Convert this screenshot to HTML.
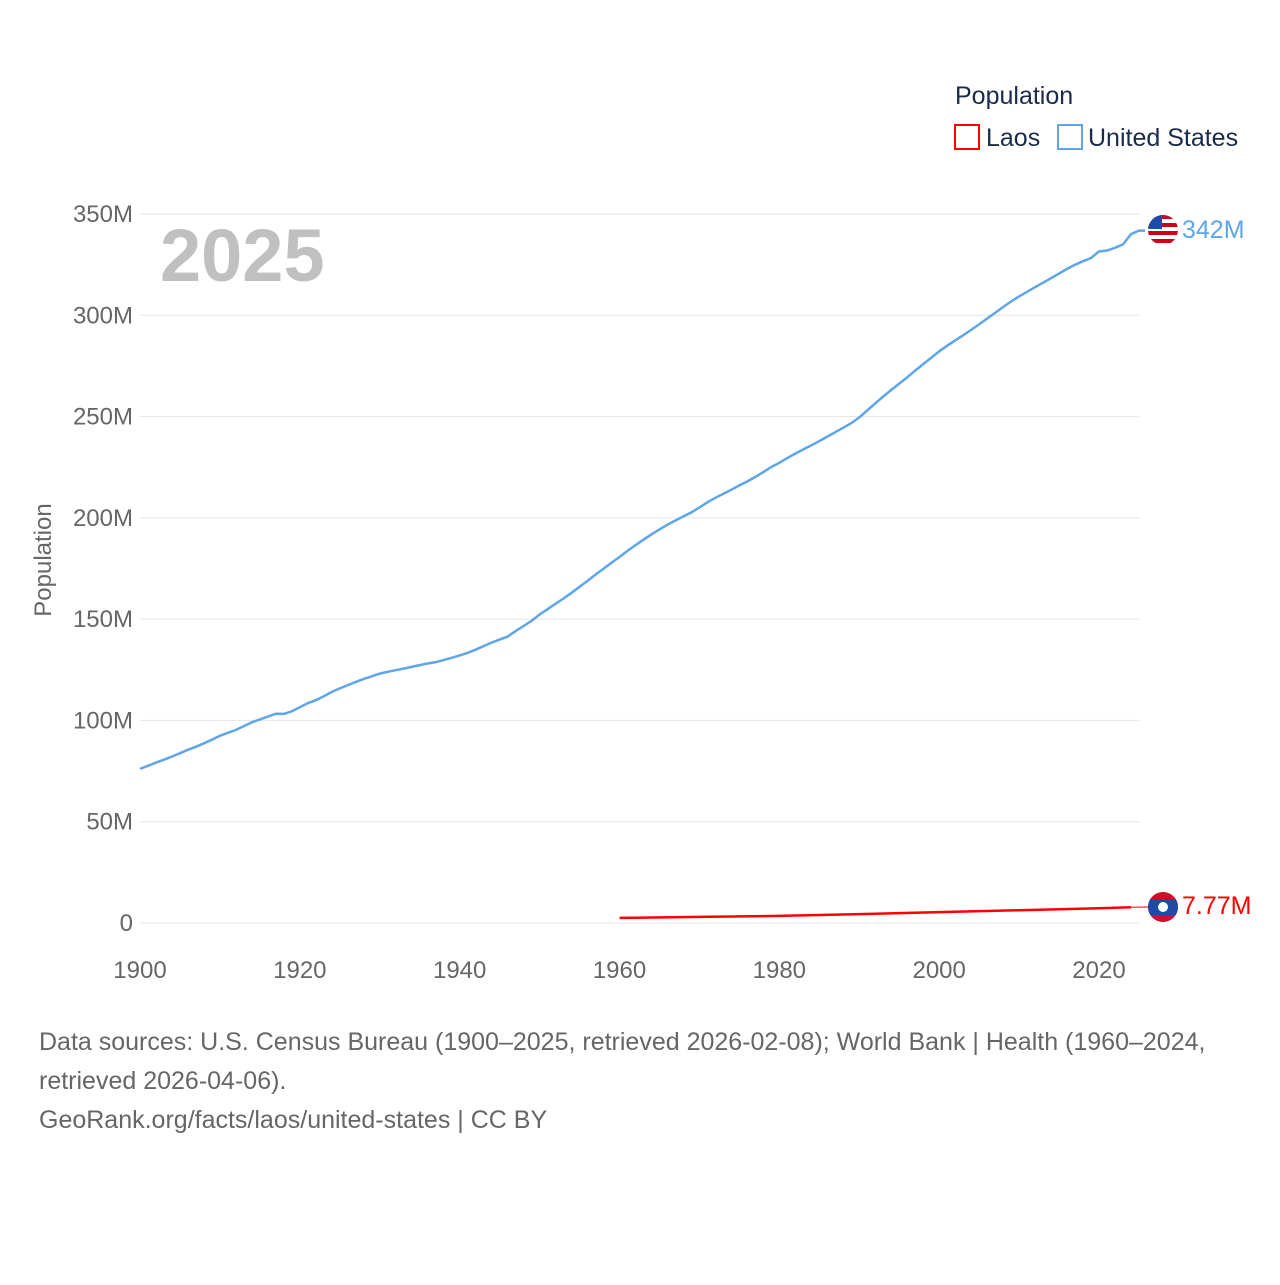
<!DOCTYPE html>
<html><head><meta charset="utf-8"><style>
body{margin:0;background:#fff;font-family:"Liberation Sans",sans-serif;}
</style></head><body>
<svg id="chart" width="1280" height="1280" xmlns="http://www.w3.org/2000/svg">
<defs>
<clipPath id="c1"><circle cx="1163" cy="230" r="15"/></clipPath>
<clipPath id="c2"><circle cx="1163" cy="907" r="15"/></clipPath>
</defs>
<text x="955" y="104" font-size="25" fill="#1a2a4a">Population</text>
<g><rect x="955" y="125" width="24" height="24" fill="none" stroke="#ff0000" stroke-width="2"/><text x="986" y="146" font-size="25" fill="#1a2a4a">Laos</text></g>
<g><rect x="1058" y="125" width="24" height="24" fill="none" stroke="#5ea5ea" stroke-width="2"/><text x="1088" y="146" font-size="25" fill="#1a2a4a">United States</text></g>
<g id="grid"></g>
<g id="yticks"></g>
<g id="xticks"></g>
<text x="160" y="281" font-size="74" font-weight="bold" fill="#c0c0c0">2025</text>
<text transform="translate(51,560) rotate(-90)" text-anchor="middle" font-size="24" fill="#666">Population</text>
<g id="series"></g>
<g clip-path="url(#c1)">
<rect x="1148" y="215" width="30" height="30" fill="#fff"/>
<rect x="1148" y="215" width="30" height="4" fill="#d0021b"/><rect x="1148" y="223" width="30" height="4" fill="#d0021b"/><rect x="1148" y="231" width="30" height="4" fill="#d0021b"/><rect x="1148" y="239" width="30" height="4" fill="#d0021b"/>
<rect x="1148" y="215" width="14" height="14" fill="#1f4aa8"/>
</g>
<text x="1182" y="238" font-size="25" fill="#5ea5ea">342M</text>
<g clip-path="url(#c2)">
<rect x="1148" y="892" width="30" height="30" fill="#ce1126"/><rect x="1148" y="899" width="30" height="16" fill="#1f4aa8"/><circle cx="1163" cy="907" r="5" fill="#fff"/>
</g>
<text x="1182" y="914" font-size="25" fill="#ff0000">7.77M</text>
<text font-size="25" fill="#666"><tspan x="39" y="1050">Data sources: U.S. Census Bureau (1900–2025, retrieved 2026-02-08); World Bank | Health (1960–2024,</tspan><tspan x="39" y="1089">retrieved 2026-04-06).</tspan><tspan x="39" y="1128">GeoRank.org/facts/laos/united-states | CC BY</tspan></text>
</svg>
<script>
const yTicks=[0,50,100,150,200,250,300,350];
const yTickLabels=["0","50M","100M","150M","200M","250M","300M","350M"];
const xTicks=[1900,1920,1940,1960,1980,2000,2020];
const usStart=1900;
const usValues=[76.1,77.6,79.2,80.6,82.2,83.8,85.5,87.0,88.7,90.5,92.4,93.9,95.3,97.2,99.1,100.5,101.9,103.3,103.2,104.5,106.5,108.5,110.0,111.9,114.1,115.8,117.4,119.0,120.5,121.8,123.1,124.0,124.8,125.6,126.4,127.3,128.1,128.8,129.8,130.9,132.1,133.4,134.9,136.7,138.4,139.9,141.4,144.1,146.6,149.2,152.3,154.9,157.6,160.2,163.0,165.9,168.9,172.0,174.9,177.8,180.7,183.7,186.5,189.2,191.9,194.3,196.6,198.7,200.7,202.7,205.1,207.7,209.9,211.9,213.9,216.0,218.0,220.2,222.6,225.1,227.2,229.5,231.7,233.8,235.8,237.9,240.1,242.3,244.5,246.8,249.6,253.0,256.5,259.9,263.1,266.3,269.4,272.7,275.9,279.0,282.2,285.0,287.6,290.1,292.8,295.5,298.4,301.2,304.1,306.8,309.3,311.6,313.9,316.1,318.3,320.6,322.9,324.9,326.7,328.3,331.5,332.0,333.3,335.0,340.1,341.8];
const laosYears=[1960,1970,1980,1990,2000,2010,2020,2024];
const laosValues=[2.5,3.0,3.5,4.4,5.4,6.3,7.3,7.77];
const NS="http://www.w3.org/2000/svg";
const X=y=>140+(y-1900)*(1099-140)/120;
const Y=v=>923-v*(923-214)/350;
function mk(t,a,p){const e=document.createElementNS(NS,t);for(const k in a)e.setAttribute(k,a[k]);p.appendChild(e);return e;}
const grid=document.getElementById('grid'),yt=document.getElementById('yticks'),xt=document.getElementById('xticks'),ser=document.getElementById('series');
yTicks.forEach((v,i)=>{
 const l=mk('line',{x1:140,x2:1139,y1:Y(v),y2:Y(v),stroke:'#e6e6e6','stroke-width':1},grid);
 
 
 const t=mk('text',{x:133,y:Y(v)+8,'text-anchor':'end','font-size':24,fill:'#666'},yt);
 t.textContent=yTickLabels[i];
 
 
});
xTicks.forEach(v=>{
 const t=mk('text',{x:X(v),y:978,'text-anchor':'middle','font-size':24,fill:'#666'},xt);
 t.textContent=v;
 
 
});
let d=usValues.map((v,i)=>(i?'L':'M')+X(usStart+i).toFixed(1)+','+Y(v).toFixed(1)).join('');
d+='L'+(X(usStart+usValues.length-1)+6).toFixed(1)+','+Y(usValues[usValues.length-1]).toFixed(1);
const us=mk('path',{d:d,fill:'none',stroke:'#5ea5ea','stroke-width':2.5},ser);


const ld=laosYears.map((y,i)=>(i?'L':'M')+X(y).toFixed(1)+','+Y(laosValues[i]).toFixed(1)).join('');
const la=mk('path',{d:ld,fill:'none',stroke:'#ff0000','stroke-width':2.5},ser);


const last=laosYears.length-1;
const lc=mk('line',{x1:X(laosYears[last]),y1:Y(laosValues[last]),x2:1148,y2:907,stroke:'#ff0000','stroke-width':1},ser);


</script>
</body></html>
